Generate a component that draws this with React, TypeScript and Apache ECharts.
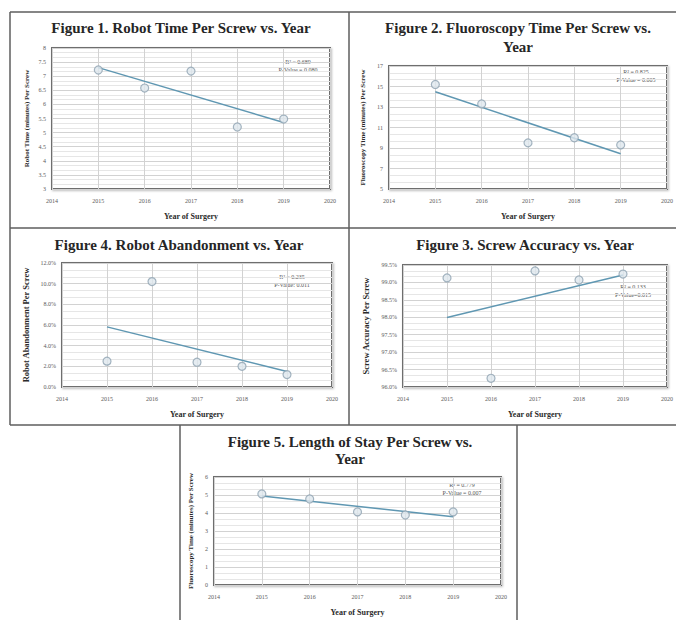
import React, { useEffect, useRef } from "react";
import * as echarts from "echarts";

// Surgical year of each observation
const years = [2015, 2016, 2017, 2018, 2019];

// Per-year outcome values
const robotTime = [7.22, 6.58, 7.18, 5.2, 5.48];
const fluoroTime = [15.2, 13.3, 9.5, 10.0, 9.3];
const abandonment = [2.5, 10.2, 2.4, 2.0, 1.2];
const accuracy = [99.13, 96.25, 99.33, 99.07, 99.24];
const lengthOfStay = [5.06, 4.78, 4.06, 3.89, 4.06];

// Regression statistics printed on each panel
const statsRobot = ["R² = 0.689", "P-Value = 0.080"];
const statsFluoro = ["R² = 0.825", "P-Value = 0.005"];
const statsAbandon = ["R² = 0.235", "P-Value: 0.011"];
const statsAccuracy = ["R² = 0.133", "P-Value=0.015"];
const statsStay = ["R² = 0.779", "P-Value = 0.007"];

const SERIF = "'Liberation Serif', 'Times New Roman', serif";

// Least-squares line evaluated at the first and last year
function trend(xs: number[], ys: number[]): number[][] {
  const n = xs.length;
  const mx = xs.reduce((a, b) => a + b, 0) / n;
  const my = ys.reduce((a, b) => a + b, 0) / n;
  let sxy = 0;
  let sxx = 0;
  for (let i = 0; i < n; i++) {
    sxy += (xs[i] - mx) * (ys[i] - my);
    sxx += (xs[i] - mx) * (xs[i] - mx);
  }
  const slope = sxy / sxx;
  const b = my - slope * mx;
  const x0 = xs[0];
  const x1 = xs[n - 1];
  return [
    [x0, b + slope * x0],
    [x1, b + slope * x1],
  ];
}

type Panel = {
  title: string[];
  titleX: number;
  titleY: number;
  lineGap: number;
  yName: string;
  yNameSize: number;
  values: number[];
  min: number;
  max: number;
  interval: number;
  fmt: (v: number) => string;
  grid: { left: number; top: number; width: number; height: number };
  nameGapY: number;
  stats: string[];
  statsX: number;
  statsY: number;
};

const plain = (v: number) => String(v);
const pct = (v: number) => v.toFixed(1) + "%";

const panels: Panel[] = [
  {
    title: ["Figure 1. Robot Time Per Screw vs. Year"],
    titleX: 181,
    titleY: 28,
    lineGap: 19,
    yName: "Robot Time (minutes) Per Screw",
    yNameSize: 7,
    values: robotTime,
    min: 3,
    max: 8,
    interval: 0.5,
    fmt: plain,
    grid: { left: 52, top: 48, width: 278, height: 141 },
    nameGapY: 22,
    stats: statsRobot,
    statsX: 298,
    statsY: 62,
  },
  {
    title: ["Figure 2. Fluoroscopy Time Per Screw vs.", "Year"],
    titleX: 518,
    titleY: 28,
    lineGap: 19,
    yName: "Fluoroscopy Time (minutes) Per Screw",
    yNameSize: 7,
    values: fluoroTime,
    min: 5,
    max: 17,
    interval: 2,
    fmt: plain,
    grid: { left: 389, top: 66, width: 281, height: 123 },
    nameGapY: 23,
    stats: statsFluoro,
    statsX: 636,
    statsY: 72,
  },
  {
    title: ["Figure 4. Robot Abandonment vs. Year"],
    titleX: 179,
    titleY: 245,
    lineGap: 19,
    yName: "Robot Abandonment Per Screw",
    yNameSize: 8.5,
    values: abandonment,
    min: 0,
    max: 12,
    interval: 2,
    fmt: pct,
    grid: { left: 62, top: 263, width: 270, height: 124 },
    nameGapY: 32,
    stats: statsAbandon,
    statsX: 292,
    statsY: 277,
  },
  {
    title: ["Figure 3. Screw Accuracy vs. Year"],
    titleX: 525,
    titleY: 245,
    lineGap: 19,
    yName: "Screw Accuracy Per Screw",
    yNameSize: 8.5,
    values: accuracy,
    min: 96,
    max: 99.5,
    interval: 0.5,
    fmt: pct,
    grid: { left: 403, top: 265, width: 266, height: 122 },
    nameGapY: 33,
    stats: statsAccuracy,
    statsX: 633,
    statsY: 287,
  },
  {
    title: ["Figure 5. Length of Stay Per Screw vs.", "Year"],
    titleX: 350,
    titleY: 442,
    lineGap: 17,
    yName: "Fluoroscopy Time (minutes) Per Screw",
    yNameSize: 7,
    values: lengthOfStay,
    min: 0,
    max: 6,
    interval: 1,
    fmt: plain,
    grid: { left: 214, top: 477, width: 287, height: 108 },
    nameGapY: 20,
    stats: statsStay,
    statsX: 462,
    statsY: 485,
  },
];

function buildOption() {
  const grids: any[] = [];
  const xAxes: any[] = [];
  const yAxes: any[] = [];
  const series: any[] = [];
  const graphics: any[] = [];

  const axisName = {
    fontFamily: SERIF,
    fontWeight: "bold",
    fontSize: 8,
    color: "#2a2a2a",
  };
  const tickLabel = {
    fontSize: 6,
    color: "#5a5a5a",
    fontFamily: SERIF,
  };

  panels.forEach((p, i) => {
    grids.push({
      ...p.grid,
      show: true,
      backgroundColor: "#ffffff",
      borderColor: "#6e6e6e",
      borderWidth: 2,
      shadowColor: "rgba(0,0,0,0.25)",
      shadowBlur: 2,
      shadowOffsetX: 1,
      shadowOffsetY: 1,
    });
    xAxes.push({
      gridIndex: i,
      type: "value",
      min: 2014,
      max: 2020,
      interval: 1,
      axisLine: { show: false },
      axisTick: { show: false },
      axisLabel: { ...tickLabel, formatter: (v: number) => String(v), margin: 9 },
      splitLine: { show: true, lineStyle: { color: "#d2d2d2", width: 1 } },
      name: "Year of Surgery",
      nameLocation: "middle",
      nameGap: 23,
      nameTextStyle: axisName,
    });
    yAxes.push({
      gridIndex: i,
      type: "value",
      min: p.min,
      max: p.max,
      interval: p.interval,
      axisLine: { show: false },
      axisTick: { show: false },
      axisLabel: { ...tickLabel, formatter: p.fmt, margin: 6 },
      splitLine: { show: true, lineStyle: { color: "#d2d2d2", width: 1 } },
      minorTick: { show: false, splitNumber: 3 },
      minorSplitLine: { show: true, lineStyle: { color: "#e6e6e6", width: 1 } },
      name: p.yName,
      nameLocation: "middle",
      nameGap: p.nameGapY,
      nameTextStyle: { ...axisName, fontSize: p.yNameSize },
    });
    series.push({
      type: "line",
      xAxisIndex: i,
      yAxisIndex: i,
      data: trend(years, p.values),
      symbol: "none",
      lineStyle: { color: "#5f97b2", width: 1.5 },
      z: 2,
    });
    series.push({
      type: "scatter",
      xAxisIndex: i,
      yAxisIndex: i,
      data: years.map((y, k) => [y, p.values[k]]),
      symbolSize: 8,
      itemStyle: {
        color: "#dfe7ed",
        borderColor: "#8ea3b2",
        borderWidth: 1.2,
      },
      z: 3,
    });

    p.title.forEach((line, k) => {
      graphics.push({
        type: "text",
        x: p.titleX,
        y: p.titleY + k * p.lineGap,
        style: {
          text: line,
          fontFamily: SERIF,
          fontWeight: "bold",
          fontSize: 15,
          fill: "#262626",
          align: "center",
          verticalAlign: "middle",
        },
      });
    });
    p.stats.forEach((line, k) => {
      graphics.push({
        type: "text",
        x: p.statsX,
        y: p.statsY + k * 7.5,
        style: {
          text: line,
          fontFamily: SERIF,
          fontSize: 6,
          fill: "#555",
          align: "center",
          verticalAlign: "middle",
        },
      });
    });
  });

  // Panel frame lines
  const frame = [
    [10, 12, 676, 12],
    [10, 12, 10, 425],
    [349, 12, 349, 425],
    [10, 228, 676, 228],
    [10, 425, 676, 425],
    [180, 425, 180, 620],
    [517, 425, 517, 620],
  ];
  frame.forEach(([x1, y1, x2, y2]) => {
    graphics.push({
      type: "line",
      shape: { x1, y1, x2, y2 },
      style: { stroke: "#5e5e5e", lineWidth: 1.5 },
      z: 10,
    });
  });

  return {
    animation: false,
    backgroundColor: "#ffffff",
    grid: grids,
    xAxis: xAxes,
    yAxis: yAxes,
    series,
    graphic: graphics,
  };
}

export default function App() {
  const ref = useRef<HTMLDivElement>(null);
  useEffect(() => {
    if (!ref.current) return;
    const chart = echarts.init(ref.current, null, { renderer: "svg" });
    chart.setOption(buildOption() as any);
    return () => chart.dispose();
  }, []);
  return (
    <div
      ref={ref}
      style={{
        position: "fixed",
        left: 0,
        top: 0,
        width: 676,
        height: 620,
        background: "#fff",
      }}
    />
  );
}
